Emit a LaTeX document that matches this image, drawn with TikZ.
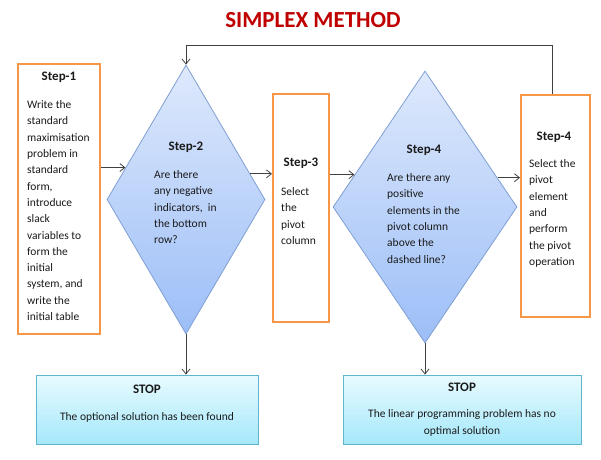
\documentclass[tikz,border=0pt]{standalone}
\usepackage{fontspec}
\setmainfont{Carlito}
\usetikzlibrary{shapes.geometric,arrows.meta,calc,shadows}
\definecolor{titlered}{HTML}{C00000}
\definecolor{boxorange}{HTML}{F79646}
\definecolor{diatop}{HTML}{DEE9FC}
\definecolor{diabot}{HTML}{9CBEF7}
\definecolor{diaedge}{HTML}{7F9FD3}
\definecolor{stoptop}{HTML}{E8FBFF}
\definecolor{stopbot}{HTML}{A5E8FA}
\definecolor{stopedge}{HTML}{60B4CF}
\definecolor{linegray}{HTML}{404040}
\definecolor{txt}{HTML}{1A1A1A}
\begin{document}
\begin{tikzpicture}[x=1pt,y=-1pt,
  stepbox/.style={rectangle,draw=boxorange,line width=2pt,fill=white,inner sep=0pt},
  decision/.style={diamond,draw=diaedge,line width=0.8pt,top color=diatop,bottom color=diabot,inner sep=0pt},
  stopbox/.style={rectangle,draw=stopedge,line width=0.8pt,top color=stoptop,bottom color=stopbot,inner sep=0pt,
    drop shadow={shadow xshift=1.2pt,shadow yshift=-1.2pt,fill=black,opacity=0.25}},
  head/.style={font=\fontsize{13}{15}\selectfont\bfseries,text=txt,inner sep=0pt},
  body/.style={font=\fontsize{11.5}{16.3}\selectfont,text=txt,align=left,anchor=north west,inner sep=0pt},
  arr/.style={draw=linegray,line width=0.8pt,-{Straight Barb[length=5pt,width=8pt]}}
]
\useasboundingbox[fill=white] (0,0) rectangle (601,459);

% title
\node[font=\fontsize{23}{26}\selectfont\bfseries,text=titlered,inner sep=0pt] (title) at (313,20) {SIMPLEX METHOD};

% shapes
\node[stepbox,minimum width=82pt,minimum height=270pt] (s1) at (59,199) {};
\node[decision,minimum width=158pt,minimum height=269pt] (d1) at (186,199.5) {};
\node[stepbox,minimum width=56pt,minimum height=228pt] (s3) at (301,208) {};
\node[decision,minimum width=184pt,minimum height=272pt] (d2) at (425,207) {};
\node[stepbox,minimum width=69pt,minimum height=222pt] (s4) at (555.5,206) {};
\node[stopbox,minimum width=222pt,minimum height=69pt] (st1) at (147,409.5) {};
\node[stopbox,minimum width=238pt,minimum height=69pt] (st2) at (462,409.5) {};

% texts
\node[head] (h1) at (59,77) {Step-1};
\node[body] (t1) at (27,100.5) {Write the\\standard\\maximisation\\problem in\\standard\\form,\\introduce\\slack\\variables to\\form the\\initial\\system, and\\write the\\initial table};
\node[head] (h2) at (186,147) {Step-2};
\node[body] (t2) at (154,170.5) {Are there\\any negative\\indicators,~ in\\the bottom\\row?};
\node[head] (h3) at (301,163) {Step-3};
\node[body] (t3) at (281,187.5) {Select\\the\\pivot\\column};
\node[head] (h4) at (424,150) {Step-4};
\node[body] (t4) at (387,173.5) {Are there any\\positive\\elements in the\\pivot column\\above the\\dashed line?};
\node[head] (h5) at (554,137) {Step-4};
\node[body] (t5) at (529,159.5) {Select the\\pivot\\element\\and\\perform\\the pivot\\operation};
\node[head] (sh1) at (147,389) {STOP};
\node[body,anchor=center,align=center] (stx1) at (147,417) {The optional solution has been found};
\node[head] (sh2) at (462,387) {STOP};
\node[body,anchor=center,align=center] (stx2) at (462,423) {The linear programming problem has no\\optimal solution};

% connectors
\coordinate (a1) at ($(d1.west)!0.237!(d1.north)$);
\draw[arr] (a1 -| s1.east) -- (a1);
\coordinate (a2) at ($(d1.east)!0.19!(d1.north)$);
\draw[arr] (a2) -- (a2 -| s3.west);
\coordinate (a3) at ($(d2.west)!0.237!(d2.north)$);
\draw[arr] (a3 -| s3.east) -- (a3);
\coordinate (a4) at ($(d2.east)!0.215!(d2.north)$);
\draw[arr] (a4) -- (a4 -| s4.west);
\coordinate (loopc) at ($(s4.north)+(-3,-49)$);
\draw[arr] (s4.north -| loopc) -- (loopc) -| (d1.north);
\draw[arr] (d1.south) -- (d1.south |- st1.north);
\draw[arr] (d2.south) -- (d2.south |- st2.north);
\end{tikzpicture}
\end{document}
